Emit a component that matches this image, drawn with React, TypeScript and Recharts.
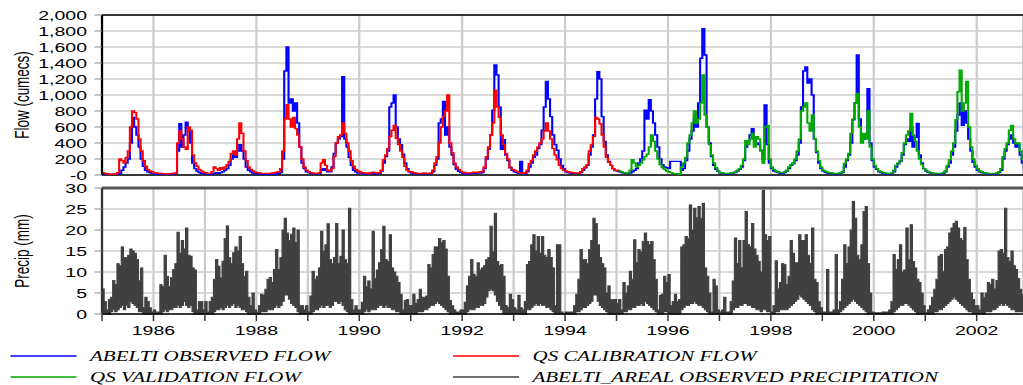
import React from 'react';
import {
  LineChart,
  Line,
  ComposedChart,
  Area,
  XAxis,
  YAxis,
  CartesianGrid,
  ReferenceLine,
} from 'recharts';

// Half-monthly values, one row per year (1985 .. 2002), 24 values per row
const START_YEAR = 1985;
const STEPS_PER_YEAR = 24;

const yearTicks = [1985, 1986, 1987, 1988, 1989, 1990, 1991, 1992, 1993, 1994, 1995, 1996, 1997, 1998, 1999, 2000, 2001, 2002];
const flowTicks = [0, 200, 400, 600, 800, 1000, 1200, 1400, 1600, 1800, 2000];
const precipTicks = [0, 5, 10, 15, 20, 25, 30];

// ABELTI OBSERVED FLOW (cumecs)
const observedFlow: number[][] = [
  [10, 10, 10, 10, 10, 10, 10, 10, 20, 60, 100, 150, 200, 400, 720, 600, 500, 350, 200, 110, 60, 40, 30, 20],
  [15, 10, 10, 10, 10, 10, 10, 10, 10, 15, 20, 300, 640, 350, 500, 660, 580, 400, 150, 80, 50, 30, 20, 15],
  [15, 10, 10, 10, 20, 30, 20, 30, 40, 60, 80, 120, 200, 250, 220, 300, 380, 300, 200, 100, 60, 40, 25, 15],
  [15, 10, 10, 10, 10, 10, 10, 10, 10, 15, 20, 30, 200, 1300, 1600, 900, 950, 800, 900, 650, 350, 150, 80, 40],
  [30, 20, 15, 15, 15, 20, 60, 80, 60, 40, 40, 100, 270, 400, 450, 480, 1230, 450, 350, 220, 120, 60, 40, 25],
  [25, 20, 15, 15, 15, 20, 20, 15, 15, 20, 50, 150, 230, 300, 850, 900, 1000, 600, 450, 380, 260, 150, 80, 40],
  [25, 20, 15, 15, 15, 15, 15, 15, 15, 20, 40, 120, 200, 650, 700, 920, 500, 600, 350, 250, 130, 70, 45, 30],
  [20, 15, 15, 15, 20, 25, 20, 25, 25, 30, 80, 200, 320, 500, 810, 1375, 1250, 850, 320, 440, 250, 180, 90, 60],
  [40, 30, 20, 170, 20, 15, 40, 100, 150, 220, 250, 330, 380, 560, 850, 1170, 950, 730, 500, 380, 310, 200, 120, 80],
  [40, 30, 25, 20, 20, 20, 20, 30, 60, 90, 120, 250, 350, 500, 950, 1290, 1200, 730, 420, 250, 170, 120, 80, 55],
  [50, 40, 30, 25, 20, 20, 25, 40, 60, 80, 150, 200, 300, 810, 700, 940, 800, 650, 500, 350, 200, 130, 100, 90],
  [80, 170, 170, 170, 170, 170, 60, 80, 180, 300, 450, 550, 700, 600, 900, 1460, 1830, 1500, 600, 400, 230, 120, 70, 45],
  [25, 20, 15, 15, 15, 20, 25, 30, 50, 70, 100, 180, 350, 420, 500, 580, 450, 400, 380, 310, 200, 875, 380, 150],
  [80, 50, 40, 30, 20, 20, 30, 50, 80, 120, 140, 180, 250, 400, 850, 1300, 1350, 1150, 1200, 1000, 450, 280, 150, 80],
  [50, 35, 25, 20, 20, 15, 15, 15, 20, 30, 100, 180, 250, 400, 690, 900, 1500, 700, 420, 450, 500, 1080, 400, 180],
  [100, 70, 40, 30, 20, 15, 15, 15, 20, 40, 100, 140, 170, 250, 380, 450, 420, 600, 350, 470, 645, 250, 150, 80],
  [50, 35, 25, 20, 20, 15, 15, 15, 20, 40, 100, 150, 250, 350, 550, 750, 900, 620, 800, 650, 450, 300, 160, 100],
  [60, 40, 30, 25, 20, 15, 15, 15, 15, 20, 30, 60, 200, 300, 380, 450, 500, 400, 350, 380, 250, 150, 60, 30],
];

// QS CALIBRATION FLOW, 1985 .. early 1995
const calibrationFlow: number[][] = [
  [30, 20, 15, 10, 10, 10, 10, 30, 200, 180, 150, 220, 300, 600, 800, 780, 700, 450, 300, 180, 110, 70, 50, 40],
  [30, 25, 20, 20, 15, 15, 15, 15, 20, 20, 25, 400, 550, 450, 350, 320, 600, 560, 250, 150, 110, 70, 50, 35],
  [30, 20, 20, 40, 100, 80, 60, 90, 70, 100, 130, 170, 270, 300, 250, 450, 650, 520, 300, 180, 100, 70, 50, 35],
  [30, 25, 20, 20, 20, 20, 20, 25, 30, 35, 40, 80, 300, 700, 880, 700, 600, 720, 580, 500, 350, 200, 100, 60],
  [40, 30, 25, 20, 20, 30, 150, 190, 120, 60, 50, 80, 230, 400, 480, 500, 650, 520, 400, 300, 180, 110, 70, 50],
  [40, 30, 25, 25, 20, 30, 35, 30, 25, 30, 60, 190, 250, 330, 480, 560, 620, 460, 380, 300, 220, 110, 60, 40],
  [40, 30, 25, 20, 20, 20, 25, 20, 20, 25, 60, 150, 230, 400, 600, 730, 800, 1000, 400, 280, 150, 100, 70, 45],
  [35, 30, 25, 25, 30, 35, 30, 35, 40, 45, 100, 230, 350, 500, 650, 1060, 850, 720, 500, 380, 270, 200, 100, 70],
  [60, 45, 30, 25, 20, 25, 60, 140, 180, 250, 300, 350, 400, 450, 550, 650, 550, 450, 330, 250, 190, 120, 80, 60],
  [50, 40, 35, 30, 25, 25, 25, 40, 80, 100, 130, 300, 380, 480, 720, 700, 640, 500, 350, 220, 160, 120, 80, 60],
  [60, 50],
];

// QS VALIDATION FLOW, early 1995 .. 2002
const VALIDATION_FIRST_YEAR = 1995;
const validationFlow: (number | null)[][] = [
  [null, 50, 40, 30, 25, 25, 60, 190, 150, 100, 120, 150, 190, 230, 260, 350, 500, 420, 300, 200, 130, 90, 70, 50],
  [40, 30, 20, 15, 15, 10, 100, 150, 220, 400, 500, 650, 800, 650, 700, 900, 1250, 750, 600, 380, 250, 150, 90, 50],
  [30, 25, 20, 20, 20, 25, 30, 40, 60, 80, 120, 200, 430, 380, 450, 520, 350, 480, 450, 300, 150, 600, 620, 200],
  [100, 70, 50, 40, 30, 30, 40, 60, 100, 130, 150, 200, 300, 450, 800, 850, 900, 650, 550, 750, 450, 300, 180, 100],
  [60, 45, 35, 30, 25, 20, 20, 20, 25, 40, 145, 200, 270, 520, 700, 900, 1020, 600, 400, 520, 450, 800, 350, 200],
  [120, 80, 50, 40, 30, 25, 20, 20, 25, 60, 120, 150, 180, 280, 400, 500, 550, 770, 500, 420, 300, 200, 130, 80],
  [60, 40, 30, 25, 20, 20, 20, 20, 30, 50, 120, 190, 300, 400, 690, 1040, 1310, 800, 900, 1170, 600, 350, 200, 120],
  [80, 50, 40, 30, 25, 20, 20, 20, 20, 25, 40, 80, 230, 330, 400, 560, 620, 450, 390, 400, 300, 200, 80, 40],
];

// ABELTI_AREAL OBSERVED PRECIPITATION (mm): high and low of each half month
const precipHigh: number[][] = [
  [6, 3, 1, 3.5, 4, 8, 7, 12, 11.5, 16, 13.5, 13.5, 14, 15.5, 15, 14.5, 13, 8, 11, 1.5, 4, 3, 1.5, 0.5],
  [1, 0.5, 0.5, 7, 6.5, 14, 9, 6.5, 8.7, 10.6, 12, 19.5, 14.5, 17.5, 15.5, 20.5, 14, 13.8, 11, 10.5, 1, 3, 3, 1],
  [3, 0.5, 3, 4, 8.3, 13, 11.4, 8.7, 12.6, 18, 21, 13.4, 12, 14.6, 16, 15, 18.5, 12, 9, 10.2, 4, 2, 5, 1],
  [0.5, 2, 4.7, 4.5, 5.9, 8.3, 8.7, 7.5, 10.6, 15.4, 10.6, 13.4, 20, 22.8, 19.3, 17.5, 19, 20.5, 17, 20, 2, 2, 1, 2],
  [0.5, 4.3, 10.2, 8.3, 9, 11, 19.7, 15, 16.5, 21.5, 13, 12, 13.5, 21.6, 12, 13.8, 20, 13, 12, 25.2, 3.5, 1, 2, 1],
  [1, 2.8, 9, 6.5, 7.9, 6, 19.7, 8.5, 10.5, 12.2, 15.4, 20.9, 13, 12.5, 18.9, 11, 10, 9, 7.5, 4.7, 1, 3.2, 3.5, 2],
  [2, 4.7, 2.5, 3.5, 5.9, 4, 4, 4.3, 11.8, 11, 14.2, 16, 16, 18, 17, 17.5, 15.5, 9, 3.2, 2, 1, 0.5, 0.5, 1],
  [1, 2.8, 6.7, 9, 13, 9.5, 9, 12.2, 10.5, 11, 11.5, 13, 13.5, 20.9, 14.8, 24, 12.5, 11.5, 11.8, 9, 2, 1.5, 4.7, 3.5],
  [1.5, 1, 4.5, 1.5, 1, 3, 11.8, 12.5, 16.5, 18.9, 15, 18.5, 14.5, 18.5, 14, 13.5, 15.4, 13.5, 11, 2, 16.5, 16.5, 0.5, 0],
  [0.5, 0.5, 0.5, 0.5, 2, 4.7, 8.3, 15.4, 13, 13, 12, 15.4, 17.5, 22.8, 21.6, 16.5, 13.5, 12, 11, 5, 6.7, 3.5, 3.5, 3.5],
  [2.5, 3.5, 1, 7.5, 5, 6.7, 10.2, 8.3, 17.7, 12.2, 15.4, 14.9, 17.3, 19.3, 17.3, 16.5, 17.3, 13, 8.3, 1, 4.5, 4.7, 9, 7.5],
  [9.4, 2, 3, 4.7, 3, 3.5, 16, 16.5, 18.5, 18, 26, 20, 25.2, 23, 25.6, 22.8, 26.4, 11, 9, 5, 0.5, 8.3, 6.7, 1],
  [0.5, 1, 4, 0.5, 0.5, 3, 7.9, 18.1, 12, 17.5, 11, 17.5, 24.4, 16.5, 16, 21.6, 15.5, 14, 12.5, 10, 29.5, 18.9, 17.5, 18.5],
  [0.5, 2, 12.7, 6, 7.5, 12, 11.8, 7, 9, 17.5, 14.5, 12.2, 12.2, 18.9, 17.5, 17.5, 18.9, 14, 12, 20.5, 8.3, 7.5, 3, 1.5],
  [0.5, 0.5, 10.6, 0.5, 0.5, 1, 14.2, 1, 3, 8.3, 16.5, 12, 16, 20, 26.8, 22.8, 14, 13, 16.5, 24.4, 25.6, 12, 5, 0.5],
  [0.3, 0.3, 0.3, 0.3, 0.5, 0.5, 0.5, 1, 3, 14.2, 10.6, 13, 16.5, 10, 10.5, 20.5, 13, 21.3, 12.5, 11, 8.3, 7.5, 5, 2],
  [0.3, 1, 2, 4, 5.9, 8.3, 13.8, 14.2, 10.2, 15.4, 16, 19.3, 20.5, 21.6, 22.1, 20.5, 18, 17.5, 20.6, 13, 8.3, 5, 3.5, 2],
  [2, 1, 5, 4, 5, 7.5, 7, 8.3, 6, 8, 15, 15.4, 14.5, 25.2, 13.5, 12.5, 15, 11.5, 10.6, 8.5, 5.9, 4.7, 4.7, 4.7],
];

const precipLow: number[][] = [
  [0, 0, 0, 0, 0.5, 1, 0.5, 1, 1.5, 2, 1, 2, 1.5, 3, 2.5, 2, 1.5, 0.5, 0.5, 0, 0, 0, 0, 0],
  [0, 0, 0, 0, 0.5, 1, 0.5, 1, 1, 1.5, 1.5, 2, 1.5, 2, 3, 2, 1.5, 2, 0.5, 0, 0, 0, 0, 0],
  [0, 0, 0, 0, 0.5, 1, 1, 1.5, 1, 1.5, 2, 1.5, 2, 2.5, 1.5, 2, 1.5, 1, 1, 0.5, 0, 0, 0, 0],
  [0, 0, 0.5, 0.5, 0.5, 1, 1, 1, 1.5, 2, 1.5, 2, 3, 4.5, 4.5, 3.5, 2.5, 2, 1.5, 0.5, 0, 0, 0, 0],
  [0, 0, 0.5, 1, 1, 1.5, 2, 1.5, 2, 2, 1.5, 2, 3, 3, 2.5, 3, 2, 1, 0.5, 0, 0, 0, 0, 0],
  [0, 0, 0.5, 1, 0.5, 1, 1, 1, 1.5, 2, 2, 1.5, 2, 1.5, 1.5, 1, 1, 0.5, 0.5, 0, 0, 0, 0, 0],
  [0, 0, 0, 0.5, 0.5, 0.5, 1, 1, 1.5, 2, 2, 2.5, 3, 2.5, 2, 1.5, 1, 0.5, 0, 0, 0, 0, 0, 0],
  [0, 0, 0.5, 1, 1, 1, 1.5, 1.5, 2, 2, 2.5, 4, 5.5, 5.9, 5.5, 4.5, 3, 2, 1, 0, 0, 0, 0, 0],
  [0, 0, 0, 0, 0, 0, 1, 1, 1.5, 2, 2.5, 2, 2.5, 2, 2, 1.5, 1.5, 1, 0.5, 0, 0, 0, 0, 0],
  [0, 0, 0, 0, 0, 0.5, 0.5, 1, 1.5, 1.5, 2, 2.5, 3, 4.5, 4.5, 3, 2, 1.5, 1, 0.5, 0, 0, 0, 0],
  [0, 0, 0, 0.5, 0.5, 1, 1, 1.5, 1.5, 2, 2, 2.5, 2, 3, 2.5, 2, 1.5, 1, 0.5, 0, 0, 0, 0.5, 0.5],
  [0, 0, 0, 0, 0, 0, 1, 1.5, 2, 2, 2.5, 2.5, 3, 2.5, 2, 2, 1.5, 1, 0.5, 0, 0, 0, 0, 0],
  [0, 0, 0, 0, 0, 0, 1, 1.5, 1.5, 2, 2, 2.5, 2.5, 2, 2, 1.5, 1.5, 1, 1, 0.5, 1, 1, 0.5, 0.5],
  [0, 0, 0.5, 0.5, 1, 1, 1, 1, 1.5, 2, 2.5, 3, 3.5, 4.5, 4, 3.5, 3, 2.5, 2, 1, 0.5, 0, 0, 0],
  [0, 0, 0, 0, 0, 0, 0, 0, 0.5, 1, 1.5, 2, 2.5, 3, 3.5, 3, 2.5, 2, 1.5, 1, 0.5, 0, 0, 0],
  [0, 0, 0, 0, 0, 0, 0, 0, 0, 0.5, 1, 1.5, 2, 2, 2.5, 2.5, 2, 1.5, 1, 0.5, 0, 0, 0, 0],
  [0, 0, 0, 0, 0.5, 0.5, 1, 1, 1.5, 2, 2.5, 3, 3.5, 4, 3.5, 3, 2.5, 2, 1.5, 1, 0.5, 0.5, 0, 0],
  [0, 0, 0, 0, 0.5, 0.5, 0.5, 1, 1, 1.5, 2, 2.5, 2, 2.5, 2, 1.5, 1, 1, 0.5, 0.5, 0.5, 0.5, 0.5, 0.5],
];

const legendItems = [
  { label: 'ABELTI OBSERVED FLOW', color: '#0000ff' },
  { label: 'QS CALIBRATION FLOW', color: '#ff0000' },
  { label: 'QS VALIDATION FLOW', color: '#00aa00' },
  { label: 'ABELTI_AREAL OBSERVED PRECIPITATION', color: '#404040' },
];

const chartData = observedFlow.flatMap((row, yi) =>
  row.map((observed, k) => {
    const vRow = validationFlow[yi - (VALIDATION_FIRST_YEAR - START_YEAR)];
    return {
      t: START_YEAR + yi + k / STEPS_PER_YEAR,
      observed,
      calibration: calibrationFlow[yi]?.[k] ?? null,
      validation: vRow ? vRow[k] ?? null : null,
      precip: [precipLow[yi][k], precipHigh[yi][k]],
    };
  })
);

// the source picture is stretched horizontally, so everything is drawn narrow and scaled
const STRETCH = 1.5;
const W = 682;
const AXIS_W = 68;
const X_DOMAIN: [number, number] = [1985, 2002.9];
const SANS = '"Liberation Sans", Arial, sans-serif';
const SERIF = '"Liberation Serif", "Times New Roman", serif';
const tickStyle = { fontSize: 13, fill: '#000', fontFamily: SANS };

const AxisTitle = ({ text, cy }: { text: string; cy: number }) => (
  <text
    x={14.5}
    y={cy}
    transform={`rotate(-90 14.5 ${cy})`}
    textAnchor="middle"
    dominantBaseline="central"
    fontSize={13.5}
    fontFamily={SANS}
    fill="#000"
  >
    {text}
  </text>
);

const Legend = () => (
  <svg width={W} height={45} style={{ position: 'absolute', left: 0, top: 340 }}>
    {legendItems.map((item, i) => {
      const x0 = i % 2 === 0 ? 7 : 302;
      const y = 16 + Math.floor(i / 2) * 21;
      return (
        <g key={item.label}>
          <line x1={x0} x2={x0 + 44} y1={y} y2={y} stroke={item.color} strokeWidth={1.3} />
          <text
            x={x0 + 53}
            y={y + 5}
            fontSize={14}
            fontStyle="italic"
            fontFamily={SERIF}
            fill="#000"
          >
            {item.label}
          </text>
        </g>
      );
    })}
  </svg>
);

const App: React.FC = () => {
  return (
    <div
      style={{
        position: 'absolute',
        left: 0,
        top: 0,
        width: W,
        height: 385,
        background: '#fff',
        transform: `scaleX(${STRETCH})`,
        transformOrigin: '0 0',
      }}
    >
      <div style={{ position: 'absolute', left: 0, top: 0 }}>
        <LineChart width={W} height={186} data={chartData} margin={{ top: 15, right: 0, bottom: 11, left: 0 }}>
          <CartesianGrid stroke="#cccccc" strokeWidth={1.5} />
          <XAxis dataKey="t" type="number" domain={X_DOMAIN} ticks={yearTicks} hide allowDataOverflow />
          <YAxis
            domain={[0, 2000]}
            ticks={flowTicks}
            width={AXIS_W}
            interval={0}
            tickFormatter={(v: number) => (v === 0 ? '-0' : v.toLocaleString('en-US'))}
            tick={tickStyle}
            tickSize={5}
            tickMargin={5}
            tickLine={{ stroke: '#888' }}
            axisLine={{ stroke: '#000', strokeWidth: 1.5 }}
            label={<AxisTitle text="Flow (cumecs)" cy={95} />}
          />
          <ReferenceLine y={2000} stroke="#000" strokeWidth={1.5} />
          <ReferenceLine y={0} stroke="#000" strokeWidth={1.5} />
          <Line type="stepAfter" dataKey="observed" stroke="#0000ff" strokeWidth={1.4} dot={false} isAnimationActive={false} />
          <Line type="stepAfter" dataKey="calibration" stroke="#ff0000" strokeWidth={1.4} dot={false} isAnimationActive={false} />
          <Line type="stepAfter" dataKey="validation" stroke="#00aa00" strokeWidth={1.4} dot={false} isAnimationActive={false} />
        </LineChart>
      </div>
      <div style={{ position: 'absolute', left: 0, top: 180 }}>
        <ComposedChart width={W} height={160} data={chartData} margin={{ top: 8, right: 0, bottom: 0, left: 0 }}>
          <CartesianGrid stroke="#cccccc" strokeWidth={1.5} />
          <XAxis
            dataKey="t"
            type="number"
            domain={X_DOMAIN}
            ticks={yearTicks}
            interval={0}
            allowDataOverflow
            height={26}
            tickFormatter={(v: number) => (v % 2 === 0 ? String(v) : '')}
            tick={tickStyle}
            tickSize={7}
            tickMargin={5}
            tickLine={{ stroke: '#333' }}
            axisLine={{ stroke: '#000', strokeWidth: 1.5 }}
          />
          <YAxis
            domain={[0, 30]}
            ticks={precipTicks}
            width={AXIS_W}
            interval={0}
            tick={tickStyle}
            tickSize={5}
            tickMargin={5}
            tickLine={{ stroke: '#888' }}
            axisLine={{ stroke: '#333', strokeWidth: 1.5 }}
            label={<AxisTitle text="Precip (mm)" cy={71} />}
          />
          <ReferenceLine y={30} stroke="#555" strokeWidth={3} />
          <Area
            type="stepAfter"
            dataKey="precip"
            fill="#404040"
            fillOpacity={1}
            stroke="#404040"
            strokeWidth={0.8}
            isAnimationActive={false}
          />
        </ComposedChart>
      </div>
      <Legend />
    </div>
  );
};

export default App;
